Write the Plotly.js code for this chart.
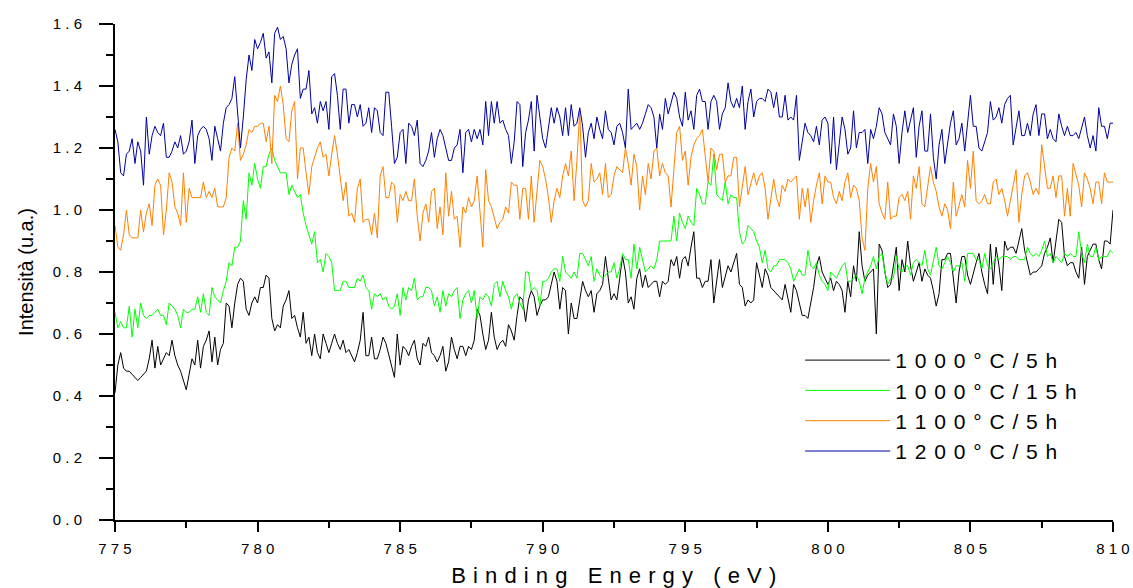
<!DOCTYPE html>
<html>
<head>
<meta charset="utf-8">
<script src="https://cdn.plot.ly/plotly-3.0.1.min.js"></script>
<style>
html,body{margin:0;padding:0;background:#fff;}
#chart{width:1133px;height:588px;}
.legendtext{letter-spacing:1px;}
.xtitle{letter-spacing:0.5px;}
</style>
</head>
<body>
<div id="chart"></div>
<script>
// Binding energy grid: starts at 775 eV, one point every 0.1 eV, up to 810 eV
const energyStart = 775;
const energyStep = 0.1;

const seriesNames = ['1 0 0 0 ° C / 5 h', '1 0 0 0 ° C / 1 5 h', '1 1 0 0 ° C / 5 h', '1 2 0 0 ° C / 5 h'];

const s1000_5h = [
0.41,0.50,0.54,0.49,0.48,0.48,0.47,0.46,0.45,0.46,
0.47,0.48,0.52,0.58,0.49,0.56,0.50,0.52,0.54,0.53,
0.58,0.53,0.50,0.48,0.45,0.42,0.47,0.52,0.50,0.58,
0.49,0.56,0.58,0.61,0.51,0.59,0.50,0.55,0.57,0.70,
0.69,0.62,0.70,0.76,0.78,0.77,0.68,0.66,0.70,0.72,
0.70,0.75,0.75,0.79,0.78,0.65,0.61,0.63,0.62,0.69,
0.71,0.74,0.65,0.66,0.62,0.59,0.67,0.57,0.59,0.53,
0.60,0.54,0.52,0.60,0.57,0.54,0.57,0.60,0.57,0.55,
0.58,0.54,0.55,0.53,0.51,0.54,0.58,0.67,0.53,0.53,
0.59,0.52,0.52,0.55,0.59,0.57,0.53,0.50,0.46,0.60,
0.50,0.56,0.55,0.53,0.56,0.58,0.52,0.50,0.57,0.56,
0.59,0.54,0.53,0.51,0.53,0.56,0.48,0.51,0.59,0.55,
0.52,0.56,0.56,0.53,0.56,0.55,0.58,0.68,0.66,0.60,
0.55,0.58,0.67,0.59,0.55,0.57,0.58,0.56,0.63,0.61,
0.58,0.66,0.72,0.71,0.64,0.71,0.74,0.72,0.66,0.69,
0.71,0.71,0.72,0.76,0.80,0.77,0.68,0.75,0.74,0.60,
0.70,0.65,0.65,0.71,0.77,0.74,0.72,0.74,0.67,0.73,
0.74,0.76,0.85,0.78,0.71,0.73,0.71,0.78,0.85,0.80,
0.70,0.72,0.68,0.78,0.81,0.75,0.79,0.75,0.76,0.77,
0.77,0.72,0.77,0.76,0.77,0.84,0.82,0.85,0.78,0.84,
0.85,0.82,0.88,0.93,0.78,0.78,0.75,0.77,0.77,0.84,
0.70,0.77,0.84,0.75,0.79,0.82,0.80,0.83,0.86,0.76,
0.75,0.69,0.71,0.70,0.71,0.83,0.79,0.75,0.81,0.79,
0.75,0.74,0.73,0.72,0.71,0.76,0.72,0.67,0.76,0.74,
0.70,0.66,0.66,0.65,0.70,0.75,0.82,0.85,0.80,0.78,
0.76,0.78,0.74,0.77,0.76,0.74,0.67,0.77,0.72,0.82,
0.77,0.93,0.82,0.77,0.79,0.80,0.81,0.60,0.89,0.87,
0.80,0.75,0.76,0.82,0.88,0.74,0.84,0.80,0.90,0.82,
0.77,0.80,0.83,0.77,0.81,0.79,0.78,0.74,0.69,0.73,
0.84,0.84,0.86,0.86,0.77,0.70,0.80,0.85,0.85,0.79,
0.76,0.80,0.83,0.86,0.80,0.76,0.73,0.89,0.76,0.88,
0.82,0.74,0.90,0.87,0.88,0.88,0.86,0.90,0.94,0.87,
0.83,0.79,0.80,0.80,0.81,0.82,0.86,0.88,0.91,0.83,
0.90,0.97,0.96,0.85,0.82,0.83,0.83,0.80,0.78,0.88,
0.76,0.85,0.87,0.89,0.89,0.84,0.81,0.90,0.90,0.89,
1.00];

const s1000_15h = [
0.67,0.62,0.64,0.62,0.62,0.69,0.59,0.68,0.62,0.70,
0.66,0.65,0.66,0.66,0.67,0.68,0.66,0.66,0.63,0.70,
0.69,0.68,0.66,0.62,0.68,0.67,0.67,0.68,0.68,0.72,
0.67,0.73,0.67,0.66,0.75,0.72,0.71,0.70,0.74,0.77,
0.83,0.82,0.88,0.88,0.90,1.03,0.97,1.12,1.08,1.15,
1.10,1.07,1.14,1.14,1.18,1.20,1.16,1.14,1.12,1.12,
1.12,1.05,1.08,1.06,1.04,1.05,0.99,0.95,0.92,0.89,
0.93,0.83,0.84,0.80,0.86,0.85,0.83,0.74,0.74,0.74,
0.77,0.77,0.75,0.75,0.75,0.78,0.77,0.79,0.75,0.74,
0.68,0.73,0.72,0.73,0.71,0.72,0.69,0.68,0.69,0.73,
0.66,0.75,0.71,0.75,0.74,0.78,0.71,0.72,0.72,0.75,
0.75,0.74,0.69,0.72,0.67,0.74,0.69,0.73,0.72,0.74,
0.75,0.65,0.71,0.73,0.74,0.70,0.74,0.65,0.72,0.71,
0.73,0.72,0.69,0.76,0.77,0.72,0.77,0.74,0.72,0.68,
0.72,0.73,0.70,0.68,0.80,0.80,0.74,0.75,0.74,0.69,
0.77,0.77,0.78,0.80,0.81,0.81,0.77,0.85,0.80,0.79,
0.78,0.80,0.78,0.86,0.86,0.84,0.82,0.85,0.77,0.81,
0.79,0.78,0.79,0.80,0.80,0.83,0.78,0.81,0.86,0.84,
0.84,0.78,0.89,0.81,0.88,0.84,0.80,0.81,0.82,0.81,
0.84,0.90,0.90,0.90,0.90,0.90,0.98,0.90,0.99,0.96,
0.94,0.98,0.96,0.95,1.07,1.05,1.02,1.02,1.09,1.08,
1.18,1.05,1.04,1.03,1.09,1.02,1.05,1.04,1.04,0.93,
0.89,0.90,0.95,0.94,0.93,0.90,0.88,0.83,0.87,0.81,
0.80,0.82,0.82,0.84,0.84,0.84,0.83,0.81,0.77,0.79,
0.81,0.79,0.79,0.87,0.82,0.81,0.83,0.79,0.77,0.76,
0.74,0.80,0.79,0.78,0.80,0.82,0.83,0.77,0.77,0.78,
0.79,0.77,0.73,0.78,0.80,0.82,0.85,0.81,0.85,0.86,
0.80,0.76,0.78,0.78,0.85,0.81,0.80,0.82,0.82,0.79,
0.83,0.84,0.83,0.82,0.87,0.81,0.79,0.84,0.88,0.82,
0.81,0.83,0.85,0.83,0.80,0.82,0.82,0.83,0.77,0.86,
0.86,0.86,0.84,0.84,0.81,0.86,0.82,0.81,0.83,0.85,
0.84,0.85,0.85,0.85,0.84,0.85,0.85,0.84,0.84,0.84,
0.88,0.86,0.85,0.86,0.85,0.87,0.90,0.85,0.86,0.83,
0.85,0.84,0.83,0.86,0.85,0.86,0.85,0.85,0.93,0.86,
0.83,0.89,0.85,0.85,0.88,0.84,0.85,0.85,0.85,0.87,
0.86];

const s1100_5h = [
0.95,0.88,0.87,0.92,1.00,0.92,0.91,0.91,0.91,1.00,
0.93,0.99,1.02,0.95,1.08,1.10,1.08,0.92,1.00,1.12,
1.09,1.01,0.99,0.95,1.12,0.96,1.07,1.04,1.04,1.04,
1.04,1.09,1.04,1.06,1.04,1.07,1.01,1.01,1.01,1.04,
1.17,1.20,1.19,1.28,1.16,1.18,1.21,1.26,1.25,1.27,
1.27,1.28,1.28,1.22,1.27,1.15,1.37,1.35,1.40,1.34,
1.23,1.22,1.32,1.35,1.10,1.20,1.20,1.12,1.05,1.14,
1.17,1.20,1.22,1.17,1.18,1.11,1.18,1.24,1.18,1.11,
1.03,1.09,0.98,0.99,0.96,1.07,1.10,0.96,0.97,0.97,
0.92,0.99,0.91,1.11,1.14,1.04,1.04,1.09,1.08,0.96,
1.05,1.03,1.06,1.03,1.03,1.10,0.98,0.90,0.99,1.02,
0.96,1.06,1.07,0.94,1.01,0.92,1.12,0.98,1.06,0.97,
0.98,0.88,1.01,0.99,1.04,1.01,1.03,1.11,0.99,0.88,
1.13,1.03,1.01,0.97,0.94,0.96,0.97,1.01,0.99,1.09,
1.08,1.08,0.97,1.07,1.07,0.97,1.11,0.96,1.06,1.16,
1.14,1.10,1.04,0.96,1.03,1.07,1.04,1.11,1.15,1.11,
1.19,1.03,1.16,1.32,1.03,1.01,1.03,1.15,1.09,1.10,
1.12,1.05,1.15,1.04,1.05,1.11,1.14,1.13,1.12,1.20,
1.15,1.08,1.18,1.14,1.00,1.11,1.05,1.15,1.10,1.19,
1.20,1.11,1.15,1.12,1.11,1.01,1.14,1.25,1.27,1.16,
1.19,1.08,1.17,1.21,1.23,1.24,1.26,1.18,1.09,1.20,
1.19,1.13,1.18,1.18,1.09,1.11,1.11,1.17,1.17,1.01,
1.07,1.14,1.05,1.09,1.12,1.08,1.11,1.12,1.07,0.97,
1.04,1.10,1.04,1.01,1.08,1.06,1.10,1.09,1.10,1.11,
0.97,1.07,1.01,1.07,0.96,1.03,1.08,1.12,1.02,1.11,
1.09,1.09,1.04,1.02,1.06,1.03,1.09,1.12,1.04,1.08,
1.07,1.03,0.91,0.87,1.07,1.15,1.09,1.14,1.02,0.99,
0.97,1.09,0.97,0.98,0.98,1.04,1.05,1.03,1.06,0.97,
1.11,1.07,1.14,1.02,1.01,1.07,1.14,1.09,1.06,1.01,
0.98,1.02,1.00,0.94,1.09,0.98,1.02,1.05,1.01,1.16,
1.07,1.19,1.03,1.02,1.03,1.05,1.02,1.02,1.09,1.10,
1.05,1.07,1.03,0.98,1.03,1.08,1.13,0.96,1.05,1.11,
1.12,1.09,1.05,1.07,1.05,1.21,1.14,1.07,1.07,1.11,
1.04,1.11,1.11,0.98,1.07,0.98,1.15,1.11,1.08,1.01,
1.12,1.10,1.07,1.02,1.09,1.09,1.02,1.12,1.09,1.09,
1.09];

const s1200_5h = [
1.26,1.22,1.12,1.11,1.18,1.19,1.23,1.15,1.22,1.19,
1.08,1.30,1.18,1.24,1.27,1.25,1.24,1.28,1.17,1.17,
1.19,1.22,1.20,1.24,1.18,1.19,1.22,1.29,1.15,1.24,
1.26,1.27,1.26,1.23,1.16,1.27,1.23,1.19,1.28,1.33,
1.34,1.36,1.43,1.31,1.20,1.30,1.42,1.50,1.45,1.55,
1.52,1.54,1.57,1.49,1.51,1.41,1.57,1.59,1.55,1.56,
1.52,1.41,1.47,1.50,1.52,1.36,1.39,1.39,1.45,1.31,
1.33,1.28,1.35,1.32,1.35,1.26,1.43,1.44,1.37,1.26,
1.39,1.39,1.28,1.34,1.34,1.30,1.34,1.27,1.28,1.33,
1.25,1.33,1.32,1.25,1.24,1.38,1.38,1.27,1.15,1.17,
1.25,1.26,1.15,1.28,1.27,1.24,1.29,1.15,1.14,1.16,
1.19,1.25,1.17,1.23,1.26,1.24,1.20,1.16,1.16,1.20,
1.21,1.26,1.12,1.25,1.26,1.22,1.26,1.23,1.26,1.21,
1.35,1.24,1.35,1.28,1.35,1.28,1.29,1.26,1.24,1.15,
1.22,1.35,1.34,1.14,1.25,1.29,1.35,1.19,1.37,1.29,
1.23,1.20,1.27,1.33,1.28,1.33,1.30,1.24,1.33,1.24,
1.34,1.27,1.28,1.33,1.27,1.17,1.25,1.28,1.23,1.30,
1.26,1.23,1.32,1.26,1.25,1.21,1.27,1.28,1.25,1.20,
1.39,1.26,1.27,1.28,1.26,1.28,1.31,1.34,1.33,1.30,
1.20,1.31,1.26,1.36,1.31,1.35,1.38,1.36,1.30,1.27,
1.38,1.29,1.32,1.26,1.37,1.39,1.35,1.35,1.26,1.35,
1.37,1.35,1.26,1.31,1.33,1.41,1.35,1.33,1.36,1.33,
1.40,1.26,1.35,1.39,1.30,1.35,1.36,1.36,1.35,1.39,
1.38,1.33,1.38,1.30,1.30,1.37,1.29,1.30,1.29,1.37,
1.16,1.22,1.28,1.25,1.24,1.22,1.27,1.21,1.29,1.30,
1.28,1.15,1.30,1.13,1.22,1.30,1.26,1.18,1.20,1.32,
1.20,1.25,1.25,1.26,1.15,1.26,1.23,1.27,1.33,1.31,
1.25,1.23,1.21,1.31,1.27,1.15,1.25,1.32,1.25,1.29,
1.33,1.17,1.27,1.32,1.19,1.19,1.31,1.17,1.10,1.21,
1.26,1.15,1.21,1.28,1.32,1.21,1.23,1.28,1.19,1.28,
1.37,1.27,1.27,1.20,1.19,1.22,1.25,1.35,1.29,1.30,
1.33,1.28,1.34,1.36,1.37,1.21,1.27,1.32,1.24,1.24,
1.28,1.24,1.31,1.34,1.24,1.31,1.31,1.23,1.26,1.23,
1.22,1.31,1.27,1.24,1.27,1.24,1.24,1.25,1.23,1.27,
1.30,1.24,1.20,1.24,1.19,1.33,1.27,1.27,1.23,1.28,
1.28];

const seriesColors = ['#000000', '#00ff00', '#ff8000', '#0000a0'];

const xTickVals = [775, 780, 785, 790, 795, 800, 805, 810];
const xTickLabels = ['7 7 5', '7 8 0', '7 8 5', '7 9 0', '7 9 5', '8 0 0', '8 0 5', '8 1 0'];
const yTickVals = [0, 0.2, 0.4, 0.6, 0.8, 1.0, 1.2, 1.4, 1.6];
const yTickLabels = ['0 . 0', '0 . 2', '0 . 4', '0 . 6', '0 . 8', '1 . 0', '1 . 2', '1 . 4', '1 . 6'];

const FONT = 'Liberation Sans, Arial, Helvetica, sans-serif';
const allSeries = [s1000_5h, s1000_15h, s1100_5h, s1200_5h];

const traces = allSeries.map((ys, i) => ({
  type: 'scatter',
  mode: 'lines',
  name: seriesNames[i],
  x0: energyStart,
  dx: energyStep,
  y: ys,
  line: {color: seriesColors[i], width: 1},
  hoverinfo: 'x+y'
}));

const layout = {
  width: 1133,
  height: 588,
  paper_bgcolor: '#ffffff',
  plot_bgcolor: '#ffffff',
  margin: {l: 115, r: 20, t: 24, b: 68},
  showlegend: true,
  legend: {
    x: 0.6865, y: 0.363, xanchor: 'left', yanchor: 'top',
    font: {family: FONT, size: 21, color: '#000'},
    bgcolor: 'rgba(0,0,0,0)',
    itemwidth: 85,
    tracegroupgap: 0
  },
  xaxis: {
    range: [775, 810],
    tickmode: 'array', tickvals: xTickVals, ticktext: xTickLabels,
    ticks: 'outside', ticklen: 10, tickwidth: 2, tickcolor: '#000',
    ticklabelstandoff: 4,
    minor: {dtick: 2.5, tick0: 775, ticks: 'outside', ticklen: 6, tickwidth: 2, tickcolor: '#000', showgrid: false},
    showline: true, linewidth: 2, linecolor: '#000',
    showgrid: false, zeroline: false,
    tickfont: {family: FONT, size: 15, color: '#000'},
    title: {text: 'B i n d i n g   E n e r g y   ( e V )', font: {family: FONT, size: 22, color: '#000'}, standoff: 14}
  },
  yaxis: {
    range: [0, 1.6],
    tickmode: 'array', tickvals: yTickVals, ticktext: yTickLabels,
    ticks: 'outside', ticklen: 14, tickwidth: 2, tickcolor: '#000',
    ticklabelstandoff: 14,
    minor: {dtick: 0.1, tick0: 0, ticks: 'outside', ticklen: 7, tickwidth: 2, tickcolor: '#000', showgrid: false},
    showline: true, linewidth: 2, linecolor: '#000',
    showgrid: false, zeroline: false,
    tickfont: {family: FONT, size: 15, color: '#000'},
    title: {text: 'Intensità (u.a.)', font: {family: FONT, size: 20, color: '#000'}, standoff: 14}
  }
};

Plotly.newPlot('chart', traces, layout, {displayModeBar: false, staticPlot: true});
</script>
</body>
</html>
